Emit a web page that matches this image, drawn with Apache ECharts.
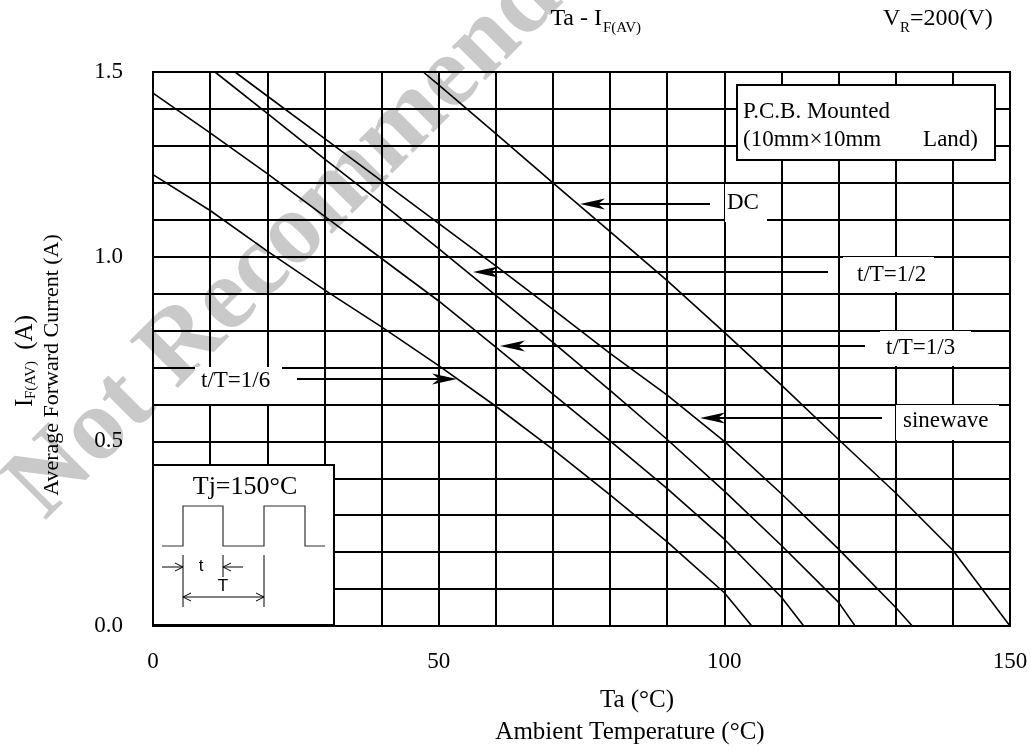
<!DOCTYPE html>
<html>
<head>
<meta charset="utf-8">
<script src="https://cdn.jsdelivr.net/npm/echarts@6/dist/echarts.min.js"></script>
<style>
html, body { margin: 0; padding: 0; background: #fff; }
#main { width: 1031px; height: 749px; }
</style>
</head>
<body>
<div id="main"></div>
<script>
// Ta - IF(AV) derating curves
var xTicks = [0, 50, 100, 150];
var yTicks = [0.0, 0.5, 1.0, 1.5];

var ta16 = [0, 10, 20, 30, 40, 50, 60, 70, 80, 90, 100, 104.8];
var if16 = [1.222, 1.125, 1.015, 0.91, 0.81, 0.705, 0.595, 0.478, 0.355, 0.228, 0.09, 0];
var ta13 = [0, 10, 20, 30, 40, 50, 60, 70, 80, 90, 100, 110, 113.9];
var if13 = [1.443, 1.335, 1.225, 1.11, 0.995, 0.88, 0.755, 0.628, 0.501, 0.372, 0.235, 0.078, 0];
var ta12 = [10.85, 20, 30, 40, 50, 60, 70, 80, 90, 100, 110, 120, 122.9];
var if12 = [1.5, 1.388, 1.265, 1.145, 1.022, 0.895, 0.768, 0.638, 0.505, 0.365, 0.218, 0.064, 0];
var taSine = [14.35, 20, 30, 40, 50, 60, 70, 80, 90, 100, 110, 120, 130, 132.9];
var ifSine = [1.5, 1.435, 1.32, 1.205, 1.09, 0.975, 0.857, 0.738, 0.625, 0.5, 0.358, 0.208, 0.05, 0];
var taDC = [47.3, 50, 60, 70, 80, 90, 100, 110, 120, 130, 140, 150];
var ifDC = [1.5, 1.465, 1.333, 1.2, 1.068, 0.935, 0.795, 0.652, 0.505, 0.36, 0.205, 0];

var SERIF = '"Liberation Serif", "Times New Roman", serif';
var SANS = '"Liberation Sans", Arial, sans-serif';

function pairs(xs, ys) {
  return xs.map(function (x, i) { return [x, ys[i]]; });
}
function curve(name, xs, ys) {
  return {
    name: name,
    type: "line",
    data: pairs(xs, ys),
    showSymbol: false,
    lineStyle: { color: "#000", width: 1.6 },
    silent: true,
  };
}
function txt(x, y, s, size, align, font) {
  return {
    type: "text", x: x, y: y, z: 20,
    style: {
      text: s, fill: "#000", fontSize: size, fontFamily: font || SERIF,
      align: align || "left", verticalAlign: "middle",
      textAlign: align || "left", textVerticalAlign: "middle",
    },
  };
}
function box(x, y, w, h, border) {
  return {
    type: "rect", z: 15,
    shape: { x: x, y: y, width: w, height: h },
    style: { fill: "#fff", stroke: border ? "#000" : null, lineWidth: border ? 2 : 0 },
  };
}
function seg(x1, y1, x2, y2, w) {
  return {
    type: "line", z: 20,
    shape: { x1: x1, y1: y1, x2: x2, y2: y2 },
    style: { stroke: "#000", lineWidth: w || 2 },
  };
}
// filled barbed arrow, horizontal, from x1 to tip x2
function arrow(x1, y, x2) {
  var d = x2 > x1 ? 1 : -1;
  return [
    seg(x1, y, x2 - d * 18, y, 2),
    {
      type: "polygon", z: 20,
      shape: { points: [[x2, y], [x2 - d * 25, y - 5.5], [x2 - d * 18, y], [x2 - d * 25, y + 5.5]] },
      style: { fill: "#000" },
    },
  ];
}
// thin open arrow head used in the inset
function openHead(x, y, d) {
  return {
    type: "polyline", z: 20,
    shape: { points: [[x - d * 8, y - 4], [x, y], [x - d * 8, y + 4]] },
    style: { stroke: "#000", lineWidth: 1, fill: null },
  };
}

var graphics = [];
// watermark
graphics.push({
  type: "text", x: 322, y: 206, z: -1, rotation: 45 * Math.PI / 180,
  style: {
    text: "Not Recommended", fill: "#c9c9c9", fontSize: 103, fontWeight: "bold",
    fontFamily: SERIF, align: "center", verticalAlign: "middle",
    textAlign: "center", textVerticalAlign: "middle",
  },
});

// title
graphics.push(txt(602, 19, "Ta - I", 24, "right"));
graphics.push(txt(603, 28, "F(AV)", 15));
graphics.push(txt(883, 19, "V", 24));
graphics.push(txt(900, 28, "R", 15));
graphics.push(txt(910, 19, "=200(V)", 24));

// y axis name, rotated
graphics.push({
  type: "group", x: 25, y: 357, rotation: Math.PI / 2,
  children: [
    txt(-50, 0, "I", 25),
    txt(-42, 6, "F(AV)", 15),
    txt(1, 0, " (A)", 25),
  ],
});
graphics.push({
  type: "group", x: 52, y: 365, rotation: Math.PI / 2,
  children: [txt(0, 0, "Average Forward Current (A)", 22, "center")],
});

// x axis name
graphics.push(txt(637, 700, "Ta (°C)", 25, "center"));
graphics.push(txt(630, 732, "Ambient Temperature (°C)", 25, "center"));

// P.C.B. note
graphics.push(box(737, 85, 258, 75, true));
graphics.push(txt(743, 112, "P.C.B. Mounted", 23));
graphics.push(txt(743, 140, "(10mm×10mm", 23));
graphics.push(txt(978, 140, "Land)", 23, "right"));

// curve labels with arrows
graphics.push(box(725, 184, 42, 38));
graphics.push(txt(727, 203, "DC", 23));
graphics = graphics.concat(arrow(710, 204, 580));

graphics.push(box(843, 257, 91, 35));
graphics.push(txt(857, 275, "t/T=1/2", 23));
graphics = graphics.concat(arrow(828, 272, 473));

graphics.push(box(880, 331, 91, 35));
graphics.push(txt(886, 348, "t/T=1/3", 23));
graphics = graphics.concat(arrow(865, 346, 500));

graphics.push(box(896, 405, 103, 35));
graphics.push(txt(903, 421, "sinewave", 23));
graphics = graphics.concat(arrow(882, 418, 700));

graphics.push(box(195, 367, 87, 37));
graphics.push(txt(201, 381, "t/T=1/6", 23));
graphics = graphics.concat(arrow(297, 379, 457));

// Tj inset with pulse sketch
graphics.push(box(153, 465, 181, 160, true));
graphics.push(txt(245, 487, "Tj=150°C", 26, "center"));
graphics.push({
  type: "polyline", z: 20,
  shape: { points: [[162, 546], [183, 546], [183, 506], [223, 506], [223, 546], [264, 546], [264, 506], [305, 506], [305, 546], [325, 546]] },
  style: { stroke: "#333", lineWidth: 1.2, fill: null },
});
graphics.push(seg(183, 555, 183, 607, 1));
graphics.push(seg(223, 555, 223, 577, 1));
graphics.push(seg(264, 555, 264, 607, 1));
graphics.push(seg(162, 567, 183, 567, 1));
graphics.push(openHead(183, 567, 1));
graphics.push(seg(243, 567, 223, 567, 1));
graphics.push(openHead(223, 567, -1));
graphics.push(seg(183, 597, 264, 597, 1));
graphics.push(openHead(183, 597, -1));
graphics.push(openHead(264, 597, 1));
graphics.push(txt(201, 566, "t", 17, "center", SANS));
graphics.push(txt(223, 586, "T", 17, "center", SANS));

var myChart = echarts.init(document.getElementById("main"));
var option = {
  backgroundColor: "#fff",
  animation: false,
  grid: {
    left: 153, right: 21, top: 72, bottom: 123,
    show: true, borderColor: "#000", borderWidth: 2,
  },
  xAxis: {
    type: "value", min: 0, max: 150, interval: 10,
    axisLine: { show: true, lineStyle: { color: "#000", width: 2 } },
    axisTick: { show: false },
    splitLine: { show: true, lineStyle: { color: "#000", width: 2 } },
    axisLabel: {
      margin: 24, color: "#000", fontSize: 23, fontFamily: SERIF,
      formatter: function (v) {
        return xTicks.indexOf(Math.round(v)) >= 0 ? String(Math.round(v)) : "";
      },
    },
  },
  yAxis: {
    type: "value", min: 0, max: 1.5, interval: 0.1,
    axisLine: { show: true, lineStyle: { color: "#000", width: 2 } },
    axisTick: { show: false },
    splitLine: { show: true, lineStyle: { color: "#000", width: 2 } },
    axisLabel: {
      margin: 30, color: "#000", fontSize: 23, fontFamily: SERIF,
      formatter: function (v) {
        var hit = yTicks.some(function (t) { return Math.abs(t - v) < 1e-6; });
        return hit ? v.toFixed(1) : "";
      },
    },
  },
  series: [
    curve("t/T=1/6", ta16, if16),
    curve("t/T=1/3", ta13, if13),
    curve("t/T=1/2", ta12, if12),
    curve("sinewave", taSine, ifSine),
    curve("DC", taDC, ifDC),
  ],
  graphic: graphics,
};
myChart.setOption(option);
</script>
</body>
</html>
